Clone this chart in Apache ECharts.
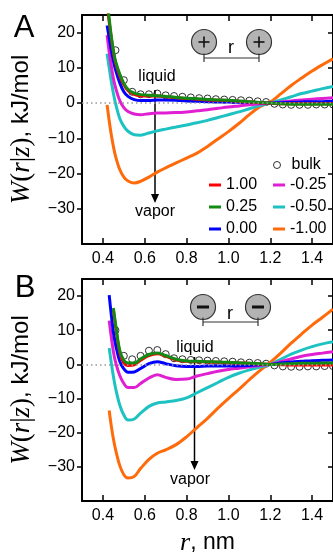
<!DOCTYPE html>
<html>
<head>
<meta charset="utf-8">
<style>
  html, body { margin: 0; padding: 0; background: #fff; }
  #main { width: 333px; height: 557px; }
</style>
<script src="https://cdn.jsdelivr.net/npm/echarts@6.0.0/dist/echarts.min.js"></script>
</head>
<body>
<div id="main"></div>
<script>
// sampling grid of r (nm) for the smooth curves
const rGrid = [0.42, 0.43, 0.44, 0.45, 0.46, 0.48, 0.50, 0.52, 0.55, 0.58, 0.62, 0.66, 0.70, 0.75,
  0.80, 0.85, 0.90, 0.95, 1.00, 1.05, 1.10, 1.15, 1.20, 1.25, 1.30, 1.35, 1.40, 1.45, 1.50];
// r positions of the open "bulk" circles
const rBulk = [0.46, 0.50, 0.54, 0.58, 0.62, 0.66, 0.70, 0.74, 0.78, 0.82, 0.86, 0.90, 0.94, 0.98,
  1.02, 1.06, 1.10, 1.14, 1.18, 1.22, 1.26, 1.30, 1.34, 1.38, 1.42, 1.46, 1.50];

const xTicks = [0.4, 0.6, 0.8, 1.0, 1.2, 1.4];
const yTicks = [-30, -20, -10, 0, 10, 20];

// panel A (cation pair), W(r|z) in kJ/mol on rGrid
const aZ100 = [28, 23, 18.5, 14.5, 11.5, 7.8, 5.2, 3.5, 2.5, 2.1, 2.0, 2.0, 1.8, 1.5, 1.3, 1.1, 0.9, 0.8, 0.7, 0.5, 0.3, 0.1, 0.0, -0.2, -0.2, -0.2, -0.2, -0.2, -0.2];
const aZ025 = [29, 24, 19, 15, 12, 8.3, 5.6, 3.9, 2.8, 2.4, 2.2, 2.1, 1.9, 1.6, 1.4, 1.2, 1.0, 0.9, 0.8, 0.6, 0.4, 0.2, 0.0, -0.2, -0.3, -0.3, -0.3, -0.3, -0.3];
const aZ000 = [22, 18.5, 15.0, 12.0, 9.5, 5.8, 3.2, 1.9, 1.0, 0.7, 0.7, 0.9, 0.9, 0.8, 0.6, 0.5, 0.4, 0.3, 0.3, 0.2, 0.2, 0.1, 0.0, 0.1, 0.2, 0.3, 0.4, 0.4, 0.5];
const aZm025 = [19.3, 14.5, 10.5, 7.0, 4.5, 0.8, -1.3, -2.4, -3.1, -3.3, -3.0, -2.8, -2.8, -2.7, -2.5, -2.2, -1.9, -1.5, -1.1, -0.8, -0.5, -0.2, 0.0, 0.3, 0.6, 0.9, 1.1, 1.3, 1.5];
const aZm050 = [14.0, 10.0, 6.2, 2.8, 0.0, -4.3, -6.6, -8.0, -9.0, -9.1, -8.5, -7.9, -7.4, -6.8, -6.2, -5.6, -4.9, -4.1, -3.3, -2.5, -1.6, -0.7, 0.0, 0.9, 1.8, 2.7, 3.4, 4.1, 4.7];
const aZm100 = [-0.5, -5.0, -9.0, -12.3, -15.0, -18.8, -21.0, -22.1, -22.7, -22.2, -21.0, -19.6, -18.4, -17.0, -15.6, -14.2, -12.3, -10.2, -8.1, -5.8, -3.3, -1.0, 0.3, 2.6, 5.0, 7.1, 9.1, 10.9, 12.6];
const aBulk = [15, 6.5, 3.2, 2.5, 2.5, 2.7, 2.2, 2.0, 1.8, 1.6, 1.4, 1.3, 1.1, 1.0, 0.9, 0.8, 0.7, 0.5, 0.3, -0.2, -0.4, -0.5, -0.5, -0.5, -0.4, -0.4, -0.4];

// panel B (anion pair)
const bZ100 = [null, null, null, 16.0, 11.5, 3.6, 0.4, -0.3, -0.1, 1.2, 2.6, 3.1, 2.4, 1.3, 0.9, 0.8, 0.7, 0.6, 0.5, 0.4, 0.3, 0.1, 0.0, -0.1, -0.2, -0.2, -0.2, -0.2, -0.2];
const bZ025 = [null, null, null, 16.5, 12.0, 4.2, 1.2, 0.4, 0.4, 1.6, 2.9, 3.3, 2.6, 1.5, 1.0, 0.9, 0.8, 0.7, 0.6, 0.5, 0.3, 0.2, 0.0, 0.1, 0.2, 0.3, 0.3, 0.4, 0.4];
const bZ000 = [null, 20.3, 14.5, 9.5, 6.0, 1.0, -1.3, -2.3, -2.2, -1.2, 0.2, 0.8, 0.2, -0.4, -0.6, -0.6, -0.5, -0.5, -0.5, -0.4, -0.3, -0.1, 0.0, 0.4, 0.7, 0.9, 1.1, 1.2, 1.3];
const bZm025 = [null, 12.8, 8.0, 3.8, 0.8, -3.2, -5.6, -6.8, -6.8, -5.6, -4.0, -3.0, -3.8, -4.4, -4.3, -3.4, -2.7, -2.0, -1.5, -1.1, -0.7, -0.3, 0.0, 0.8, 1.6, 2.4, 2.9, 3.3, 3.7];
const bZm050 = [null, 4.8, 0.5, -3.5, -6.8, -11.8, -14.8, -16.3, -16.0, -14.3, -12.3, -11.3, -11.0, -10.6, -9.8, -8.3, -6.8, -5.3, -3.8, -2.6, -1.6, -0.8, 0.0, 1.5, 3.0, 4.2, 5.2, 6.0, 6.6];
const bZm100 = [null, -13.5, -18.0, -21.8, -24.8, -29.5, -32.3, -33.3, -32.8, -30.5, -27.8, -26.0, -25.0, -23.5, -21.2, -18.5, -15.8, -12.8, -10.0, -7.3, -4.5, -1.8, 0.6, 3.3, 6.2, 8.9, 11.5, 13.8, 16.2];
const bBulk = [10, 2.5, 1.5, 2.5, 4.0, 4.2, 3.0, 1.8, 1.5, 1.3, 1.2, 1.1, 1.0, 0.9, 0.8, 0.6, 0.5, 0.4, 0.2, -0.3, -0.6, -0.7, -0.7, -0.6, -0.6, -0.5, -0.5];

const zNames = ['1.00', '0.25', '0.00', '-0.25', '-0.50', '-1.00'];
const zColors = ['#ff0000', '#138a13', '#0000ff', '#e01ed2', '#1fc2c2', '#ff6a0a'];

const FONT = 'Liberation Sans, Arial, sans-serif';
const SERIF = 'Liberation Serif, Times New Roman, serif';

const pairs = (xs, ys) => xs.map((x, i) => [x, ys[i]]).filter(p => p[1] != null);
const fmtY = v => (v < 0 ? '\u2212' + Math.abs(v) : String(v));

var myChart = echarts.init(document.getElementById('main'), null, { renderer: 'canvas' });

const grids = [
  { left: 82, top: 15, width: 252, height: 229 },
  { left: 82, top: 279, width: 252, height: 229 },
];

const axisLine = { onZero: false, lineStyle: { color: '#000', width: 2 } };
const tickStyle = { color: '#000', width: 1.5 };

let xAxis = [];
let yAxis = [];
grids.forEach((g, gi) => {
  xAxis.push({
    gridIndex: gi, type: 'value', min: 0.3, max: 1.5, position: 'bottom',
    axisLine,
    axisTick: { inside: true, length: 6, customValues: xTicks, lineStyle: tickStyle },
    axisLabel: { customValues: xTicks, formatter: v => v.toFixed(1), fontSize: 16, color: '#000', fontFamily: FONT, margin: 7 },
    splitLine: { show: false },
    name: gi === 1 ? '{i|r}{s|, nm}' : '',
    nameLocation: 'middle',
    nameGap: 29,
    nameTextStyle: {
      rich: {
        i: { fontFamily: SERIF, fontStyle: 'italic', fontSize: 26, color: '#000' },
        s: { fontFamily: FONT, fontSize: 23, color: '#000' },
      },
    },
  });
  xAxis.push({
    gridIndex: gi, type: 'value', min: 0.3, max: 1.5, position: 'top',
    axisLine,
    axisTick: { inside: true, length: 6, customValues: xTicks, lineStyle: tickStyle },
    axisLabel: { show: false },
    splitLine: { show: false },
  });
  yAxis.push({
    gridIndex: gi, type: 'value', min: -40, max: 25, position: 'left',
    axisLine,
    axisTick: { inside: false, length: 5, customValues: yTicks, lineStyle: tickStyle },
    axisLabel: { customValues: yTicks, formatter: fmtY, fontSize: 16, color: '#000', fontFamily: FONT, margin: 7 },
    splitLine: { show: false },
    name: '{i|W}{m|(}{i|r}{m||}{i|z}{m|)}{s|, kJ/mol}',
    nameLocation: 'middle',
    nameRotate: 90,
    nameGap: 47,
    nameTextStyle: {
      rich: {
        i: { fontFamily: SERIF, fontStyle: 'italic', fontSize: 27, color: '#000' },
        m: { fontFamily: SERIF, fontSize: 27, color: '#000' },
        s: { fontFamily: FONT, fontSize: 24, color: '#000' },
      },
    },
  });
  yAxis.push({
    gridIndex: gi, type: 'value', min: -40, max: 25, position: 'right',
    axisLine,
    axisTick: { inside: true, length: 5, customValues: yTicks, lineStyle: tickStyle },
    axisLabel: { show: false },
    splitLine: { show: false },
  });
});

const panels = [
  { curves: [aZ100, aZ025, aZ000, aZm025, aZm050, aZm100], bulk: aBulk },
  { curves: [bZ100, bZ025, bZ000, bZm025, bZm050, bZm100], bulk: bBulk },
];

// draw order bottom to top: -1.00, -0.50, -0.25, 0.00, 1.00, 0.25, bulk
const drawOrder = [5, 4, 3, 2, 0, 1];

let series = [];
panels.forEach((p, pi) => {
  drawOrder.forEach((k, n) => {
    const s = {
      name: zNames[k],
      type: 'line',
      xAxisIndex: pi * 2,
      yAxisIndex: pi * 2,
      data: pairs(rGrid, p.curves[k]),
      showSymbol: false,
      smooth: 0.35,
      color: zColors[k],
      lineStyle: { color: zColors[k], width: 3 },
      silent: true,
    };
    if (n === 0) {
      s.markLine = {
        silent: true,
        symbol: 'none',
        label: { show: false },
        lineStyle: { color: '#999', type: [1.5, 3], width: 1.5 },
        data: [{ yAxis: 0 }],
      };
    }
    series.push(s);
  });
  series.push({
    name: 'bulk',
    type: 'scatter',
    xAxisIndex: pi * 2,
    yAxisIndex: pi * 2,
    data: pairs(rBulk, p.bulk),
    symbol: 'circle',
    symbolSize: 7,
    itemStyle: { color: 'rgba(0,0,0,0)', borderColor: '#000', borderWidth: 1 },
    silent: true,
  });
});

const legendText = { fontSize: 16, color: '#000', fontFamily: FONT };
const legend = [
  {
    orient: 'vertical', left: 204, top: 172, itemGap: 6,
    data: ['1.00', '0.25', '0.00'],
    icon: 'rect', itemWidth: 12, itemHeight: 3,
    textStyle: legendText, selectedMode: false,
  },
  {
    orient: 'vertical', left: 268, top: 172, itemGap: 6,
    data: ['-0.25', '-0.50', '-1.00'],
    icon: 'rect', itemWidth: 12, itemHeight: 3,
    textStyle: legendText, selectedMode: false,
  },
  {
    left: 268, top: 152,
    data: ['bulk'],
    icon: 'circle', itemWidth: 7, itemHeight: 7,
    itemStyle: { color: 'rgba(0,0,0,0)', borderColor: '#000', borderWidth: 1 },
    textStyle: Object.assign({ padding: [0, 0, 0, 6] }, legendText),
    selectedMode: false,
  },
];

// schematic ion pairs, arrows and panel letters
function ion(cx, cy, plus) {
  const els = [
    { type: 'circle', shape: { cx, cy, r: 12.5 }, style: { fill: '#b3b3b3', stroke: '#333', lineWidth: 1.2 } },
  ];
  if (plus) {
    els.push({ type: 'line', shape: { x1: cx - 5.5, y1: cy, x2: cx + 5.5, y2: cy }, style: { stroke: '#111', lineWidth: 1.6 } });
    els.push({ type: 'line', shape: { x1: cx, y1: cy - 5.5, x2: cx, y2: cy + 5.5 }, style: { stroke: '#111', lineWidth: 1.6 } });
  } else {
    els.push({ type: 'line', shape: { x1: cx - 6, y1: cy, x2: cx + 6, y2: cy }, style: { stroke: '#111', lineWidth: 3 } });
  }
  return els;
}
function bracket(x1, x2, y) {
  const st = { stroke: '#333', lineWidth: 1.2 };
  return [
    { type: 'line', shape: { x1, y1: y, x2, y2: y }, style: st },
    { type: 'line', shape: { x1, y1: y - 4.5, x2: x1, y2: y + 4 }, style: st },
    { type: 'line', shape: { x1: x2, y1: y - 4.5, x2, y2: y + 4 }, style: st },
  ];
}
function arrow(x, y1, y2) {
  return [
    { type: 'line', shape: { x1: x, y1, x2: x, y2: y2 - 6 }, style: { stroke: '#000', lineWidth: 1.5 } },
    { type: 'polygon', shape: { points: [[x - 4, y2 - 9], [x + 4, y2 - 9], [x, y2]] }, style: { fill: '#000' } },
  ];
}
function label(x, y, text, size, family) {
  return {
    type: 'text', x, y,
    style: { text, fontSize: size, fontFamily: family || FONT, fill: '#000', align: 'center', verticalAlign: 'middle' },
  };
}

const graphic = [].concat(
  ion(204, 42, true), ion(259, 42, true), bracket(204, 259, 58),
  [label(231, 48, 'r', 18)],
  [label(157, 77, 'liquid', 16)],
  arrow(155, 90, 203),
  [label(155, 212, 'vapor', 16)],
  ion(203, 307, false), ion(258, 307, false), bracket(203, 258, 322),
  [label(230, 314, 'r', 18)],
  [label(195, 348, 'liquid', 16)],
  arrow(194.5, 357, 470),
  [label(190, 480, 'vapor', 16)],
  [label(24, 28, 'A', 31), label(25, 288, 'B', 31)]
);

const option = {
  animation: false,
  backgroundColor: '#fff',
  grid: grids,
  xAxis,
  yAxis,
  legend,
  series,
  graphic,
};

option && myChart.setOption(option);
</script>
</body>
</html>
